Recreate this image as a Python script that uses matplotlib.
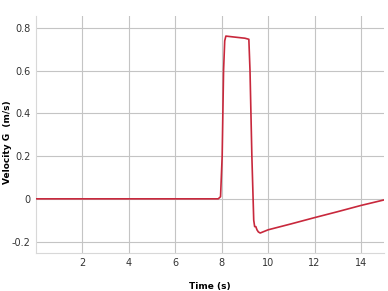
import matplotlib
matplotlib.use('Agg')
import matplotlib.pyplot as plt

# ─── data ────────────────────────────────────────────────────────────────────
time_s = [0, 7.85, 7.95, 8.02, 8.08, 8.13, 8.18, 8.5, 9.0, 9.17, 9.22, 9.30,
          9.38, 9.42, 9.47, 9.52, 9.58, 9.66, 10.0, 11.0, 12.0, 13.0, 14.0,
          14.5, 15.0]
velocity = [0, 0, 0.01, 0.2, 0.6, 0.74, 0.762, 0.758, 0.752, 0.747, 0.6, 0.2,
            -0.1, -0.13, -0.13, -0.145, -0.155, -0.160, -0.145, -0.117, -0.088,
            -0.06, -0.031, -0.018, -0.005]

x_ticks = [2, 4, 6, 8, 10, 12, 14]
y_ticks = [-0.2, 0, 0.2, 0.4, 0.6, 0.8]
y_tick_labels = ['-0.2', '0', '0.2', '0.4', '0.6', '0.8']

fig = plt.figure(figsize=(3.88, 2.91), dpi=100)
ax = fig.add_axes([0.093, 0.131, 0.897, 0.814])

ax.plot(time_s, velocity, color='#c8283c', lw=1.2, zorder=3)

ax.set_xlim(0, 15)
ax.set_ylim(-0.253, 0.856)
ax.set_xticks(x_ticks)
ax.set_yticks(y_ticks)
ax.set_yticklabels(y_tick_labels)
ax.tick_params(length=0, labelsize=7, colors='#333333')
ax.tick_params(axis='y', pad=4)
ax.tick_params(axis='x', pad=4)

ax.grid(True, color='#c4c4c4', lw=0.8)
for s in ['top', 'right']:
    ax.spines[s].set_visible(False)
for s in ['left', 'bottom']:
    ax.spines[s].set_color('#d8d8d8')
    ax.spines[s].set_linewidth(0.8)

ax.set_xlabel('Time (s)', fontsize=6.5, fontweight='bold', labelpad=10)
# y label placed by hand, it sits close to the left edge
fig.text(8 / 388, 1 - 142 / 291, 'Velocity G  (m/s)', fontsize=6.5,
         fontweight='bold', rotation=90, ha='center', va='center')

fig.savefig('out.png', dpi=100)
